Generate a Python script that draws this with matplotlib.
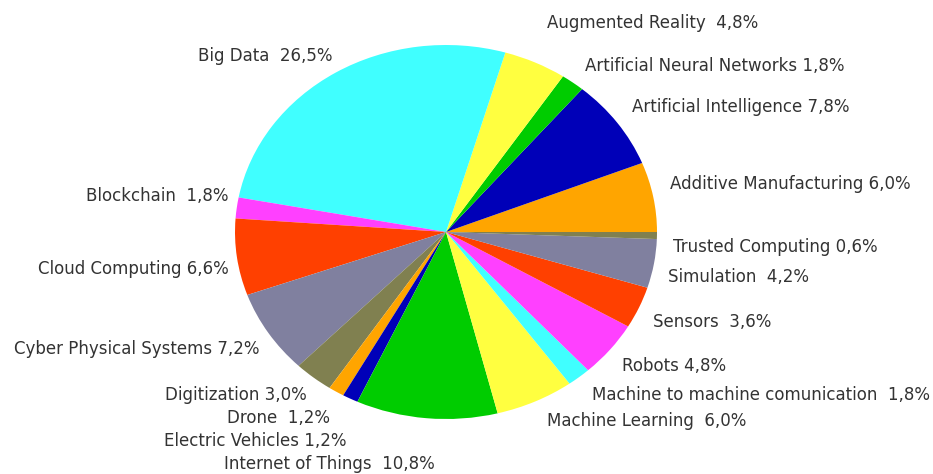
import numpy as np
import matplotlib.pyplot as plt

# Share of publications per technology topic (%)
topics = ["Additive Manufacturing", "Artificial Intelligence", "Artificial Neural Networks",
          "Augmented Reality", "Big Data", "Blockchain", "Cloud Computing",
          "Cyber Physical Systems", "Digitization", "Drone", "Electric Vehicles",
          "Internet of Things", "Machine Learning", "Machine to machine comunication",
          "Robots", "Sensors", "Simulation", "Trusted Computing"]
shares = [6.0, 7.8, 1.8, 4.8, 26.5, 1.8, 6.6, 7.2, 3.0, 1.2, 1.2,
          10.8, 6.0, 1.8, 4.8, 3.6, 4.2, 0.6]
# gap between name and value as printed on each label
gaps = [" ", " ", " ", "  ", "  ", "  ", " ", " ", " ", "  ", " ",
        "  ", "  ", "  ", " ", "  ", "  ", " "]

palette = ["#FFA500", "#0000B8", "#00CC00", "#FFFF40", "#40FFFF",
           "#FF40FF", "#FF4000", "#80809F", "#808050"]
colors = [palette[i % len(palette)] for i in range(len(shares))]

# label anchors in pixels (x = text edge nearest the pie, y = text centre from top)
lab_x = [670, 632, 585, 547, 332, 228, 229, 260, 307, 330, 347,
         435, 547, 592, 622, 653, 668, 673]
lab_y = [184, 107, 66, 23, 56, 196, 269, 349, 395, 418, 441,
         464, 421, 395, 366, 322, 277, 247]

W, H = 933, 474
fig = plt.figure(figsize=(W / 100, H / 100), dpi=100)

cx, cy, rx, ry = 446, 232, 211, 187
ax = fig.add_axes([(cx - rx) / W, (H - cy - ry) / H, 2 * rx / W, 2 * ry / H])
wedges, _ = ax.pie(shares, colors=colors, startangle=0, counterclock=True,
                   wedgeprops=dict(linewidth=0))
ax.set_aspect("auto")
ax.set_xlim(-1, 1)
ax.set_ylim(-1, 1)
ax.axis("off")

for w, name, val, gap, x, y in zip(wedges, topics, shares, gaps, lab_x, lab_y):
    mid = np.deg2rad((w.theta1 + w.theta2) / 2)
    ha = "left" if np.cos(mid) > 0 else "right"
    txt = f"{name}{gap}{val:.1f}%".replace(".", ",")
    fig.text(x / W, 1 - y / H, txt, ha=ha, va="center", fontsize=12,
             color="#333333", family="DejaVu Sans")

fig.savefig("out.png", dpi=100)
